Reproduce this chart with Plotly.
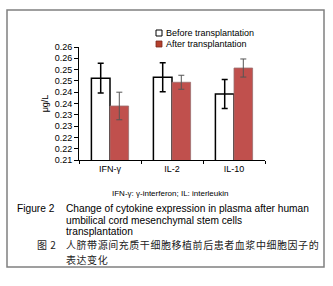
import plotly.graph_objects as go

categories = ["IFN-γ", "IL-2", "IL-10"]
before_vals = [0.2462, 0.2466, 0.2392]
before_err = [0.0066, 0.0064, 0.0064]
after_vals = [0.2339, 0.2444, 0.2507]
after_err = [0.0061, 0.0031, 0.0040]
series_names = ["Before transplantation", "After transplantation"]
tick_vals = [0.21, 0.215, 0.22, 0.225, 0.23, 0.235, 0.24, 0.245, 0.25, 0.255, 0.26]
tick_text = ["0.21", "0.22", "0.22", "0.23", "0.23", "0.24", "0.24", "0.25", "0.25", "0.26", "0.26"]

W, H = 333, 286
L, R, T, B = 79, 265, 47, 160


def px(x):
    return (x - L) / (R - L)


def py(y):
    return (B - y) / (B - T)


FONT = "Liberation Sans, Arial, sans-serif"
CJK = "Noto Sans CJK SC"
RED = "#C0504D"

fig = go.Figure()
fig.add_trace(go.Bar(
    x=categories, y=before_vals, name=series_names[0],
    marker=dict(color="white", line=dict(color="black", width=1.5)),
    error_y=dict(type="data", array=before_err, color="black", thickness=1.5, width=3),
    showlegend=False,
))
fig.add_trace(go.Bar(
    x=categories, y=after_vals, name=series_names[1],
    marker=dict(color=RED, line=dict(color="#9a7070", width=0.8)),
    error_y=dict(type="data", array=after_err, color="#555555", thickness=1, width=3),
    showlegend=False,
))

shapes = [
    dict(type="rect", xref="paper", yref="paper", x0=px(7), x1=px(324), y0=py(10), y1=py(267),
         line=dict(color="#808080", width=1.5), fillcolor="rgba(0,0,0,0)"),
    dict(type="rect", xref="paper", yref="paper", x0=px(156), x1=px(162), y0=py(30), y1=py(36),
         line=dict(color="black", width=1), fillcolor="white"),
    dict(type="rect", xref="paper", yref="paper", x0=px(156), x1=px(162), y0=py(41), y1=py(47),
         line=dict(color="#7a2a20", width=0.8), fillcolor="#B5402C"),
]

EN_FONT = dict(size=10.2, family=FONT, color="black")
ZH_FONT = dict(size=10, family=CJK, color="#222222")


def zh(s):
    return f'<span style="letter-spacing:0.55px">{s}</span>'


annotations = [
    dict(text=series_names[0], x=px(164), y=py(33), xanchor="left", yanchor="middle",
         font=dict(size=9, family=FONT, color="black")),
    dict(text=series_names[1], x=px(164), y=py(44), xanchor="left", yanchor="middle",
         font=dict(size=9, family=FONT, color="black")),
    dict(text="IFN-γ: γ-interferon; IL: interleukin", x=px(170), y=py(193), xanchor="center",
         yanchor="middle", font=dict(size=8, family=FONT, color="black")),
    dict(text="Figure 2", x=px(15), y=py(208.5), xanchor="left", yanchor="middle", font=EN_FONT),
    dict(text="Change of cytokine expression in plasma after human", x=px(64), y=py(208.5),
         xanchor="left", yanchor="middle", font=EN_FONT),
    dict(text="umbilical cord mesenchymal stem cells", x=px(64), y=py(220),
         xanchor="left", yanchor="middle", font=EN_FONT),
    dict(text="transplantation", x=px(64), y=py(231.5),
         xanchor="left", yanchor="middle", font=EN_FONT),
    dict(text=zh("图 2"), x=px(35), y=py(244.5), xanchor="left", yanchor="middle", font=ZH_FONT),
    dict(text=zh("人脐带源间充质干细胞移植前后患者血浆中细胞因子的"), x=px(64), y=py(244.5),
         xanchor="left", yanchor="middle", font=ZH_FONT),
    dict(text=zh("表达变化"), x=px(64), y=py(259),
         xanchor="left", yanchor="middle", font=ZH_FONT),
]
for a in annotations:
    a.update(xref="paper", yref="paper", showarrow=False)

fig.update_layout(
    width=W, height=H,
    margin=dict(l=L, r=W - R, t=T, b=H - B),
    paper_bgcolor="white", plot_bgcolor="white",
    barmode="group", bargap=0.4, bargroupgap=0,
    shapes=shapes, annotations=annotations,
    font=dict(family=FONT, size=9, color="black"),
)
fig.update_xaxes(
    range=[-0.5, 2.5], showline=True, linecolor="black", linewidth=1,
    ticks="outside", tickson="boundaries", ticklen=3, tickcolor="black",
    showgrid=False, tickfont=dict(size=9, family=FONT), fixedrange=True,
)
fig.update_yaxes(
    range=[0.21, 0.26], tickvals=tick_vals, ticktext=tick_text,
    showline=True, linecolor="black", linewidth=1, ticks="outside", ticklen=4,
    tickcolor="black", showgrid=False, zeroline=False, fixedrange=True,
    tickfont=dict(size=9, family=FONT),
    title=dict(text="μg/L", font=dict(size=9, family=FONT), standoff=4),
)

fig.write_html(
    "out.html",
    config={"displayModeBar": False},
    post_script="document.body.style.margin='0';document.body.style.overflow='hidden';",
)
